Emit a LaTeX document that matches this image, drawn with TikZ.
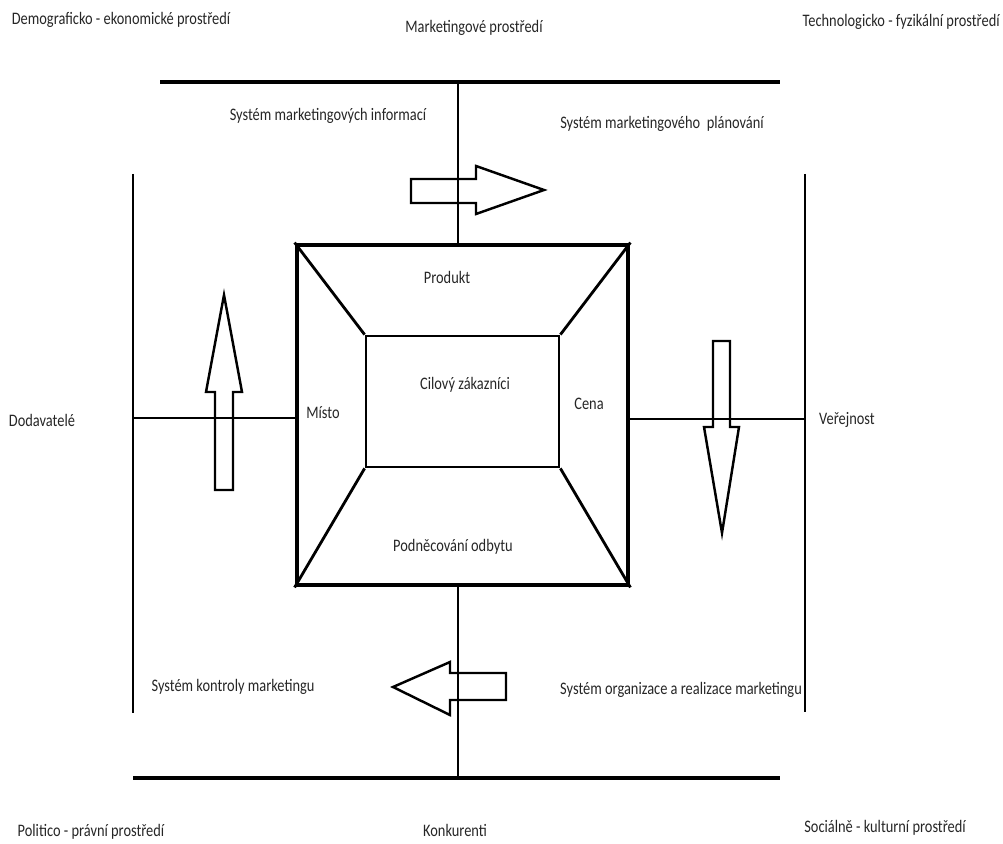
\documentclass[tikz,border=0pt]{standalone}
\usepackage{fontspec}
\setmainfont{Carlito}[FakeStretch=0.82]

\begin{document}
\begin{tikzpicture}[
        x=0.02cm, y=-0.02cm,
        every node/.style={inner sep=0pt, text=black!85},
        thinline/.style={line width=1.2pt},
        thickline/.style={line width=2.2pt},
        mixbox/.style={rectangle, draw, line width=2.8pt, minimum width=6.62cm, minimum height=6.8cm},
        targetbox/.style={rectangle, draw, line width=1.6pt, minimum width=3.86cm, minimum height=2.62cm},
        flow/.style={draw, line width=1.4pt, line join=miter}
    ]
    \useasboundingbox (0,0) rectangle (1003,844);

    % Environment labels
    \node (demo) at (121,20) {Demograficko - ekonomické prostředí};
    \node (mkt) at (474,28) {Marketingové prostředí};
    \node[anchor=east] (tech) at (1000,22) {Technologicko - fyzikální prostředí};
    \node (supp) at (42,420) {Dodavatelé};
    \node (pub) at (847,420) {Veřejnost};
    \node (pol) at (91,832) {Politico - právní prostředí};
    \node (comp) at (455,830) {Konkurenti};
    \node (soc) at (885,828) {Sociálně - kulturní prostředí};

    % Frame
    \coordinate (tl) at (160,82);
    \coordinate (tr) at (780,82);
    \coordinate (bl) at (133,778);
    \coordinate (br) at (780,778);
    \coordinate (lt) at (133,174);
    \coordinate (lb) at (133,713);
    \coordinate (rt) at (805,174);
    \coordinate (rb) at (805,712);
    \coordinate (topmid) at (458,82);
    \coordinate (botmid) at (458,778);
    \coordinate (lmid) at (133,418);
    \coordinate (rmid) at (805,419);

    \draw[thickline] (tl) -- (tr);
    \draw[thickline] (bl) -- (br);
    \draw[thinline] (lt) -- (lb);
    \draw[thinline] (rt) -- (rb);

    % Marketing mix
    \node[mixbox] (mix) at (462.5,415) {};
    \node[targetbox] (target) at (462.5,401.5) {};
    \draw[line width=1.6pt] (mix.north west) -- (target.north west);
    \draw[line width=1.6pt] (mix.north east) -- (target.north east);
    \draw[line width=1.6pt] (mix.south west) -- (target.south west);
    \draw[line width=1.6pt] (mix.south east) -- (target.south east);

    \draw[thinline] (topmid) -- (topmid |- mix.north);
    \draw[thinline] (botmid) -- (botmid |- mix.south);
    \draw[thinline] (lmid) -- (lmid -| mix.west);
    \draw[thinline] (rmid) -- (rmid -| mix.east);

    \node (prod) at (447,277) {Produkt};
    \node (place) at (323,413) {Místo};
    \node (cust) at (465,385) {Cilový zákazníci};
    \node (price) at (589,404) {Cena};
    \node (promo) at (453,547) {Podněcování odbytu};

    % Systems
    \node (info) at (328,116) {Systém marketingových informací};
    \node (plan) at (662,124) {Systém marketingového\ \ plánování};
    \node (ctrl) at (233,687) {Systém kontroly marketingu};
    \node (org) at (681,690) {Systém organizace a realizace marketingu};

    % Flow arrows
    \draw[flow] (411,179) -- (476,179) -- (476,166) -- (544,190) -- (476,214) -- (476,203) -- (411,203) -- cycle;
    \draw[flow] (713,341) -- (730,341) -- (730,427) -- (739,427) -- (722,533) -- (704,427) -- (713,427) -- cycle;
    \draw[flow] (506,673) -- (450,673) -- (450,662) -- (393,687) -- (450,715) -- (450,700) -- (506,700) -- cycle;
    \draw[flow] (215,490) -- (215,392) -- (206,392) -- (224,295) -- (242,392) -- (233,392) -- (233,490) -- cycle;

\end{tikzpicture}
\end{document}
